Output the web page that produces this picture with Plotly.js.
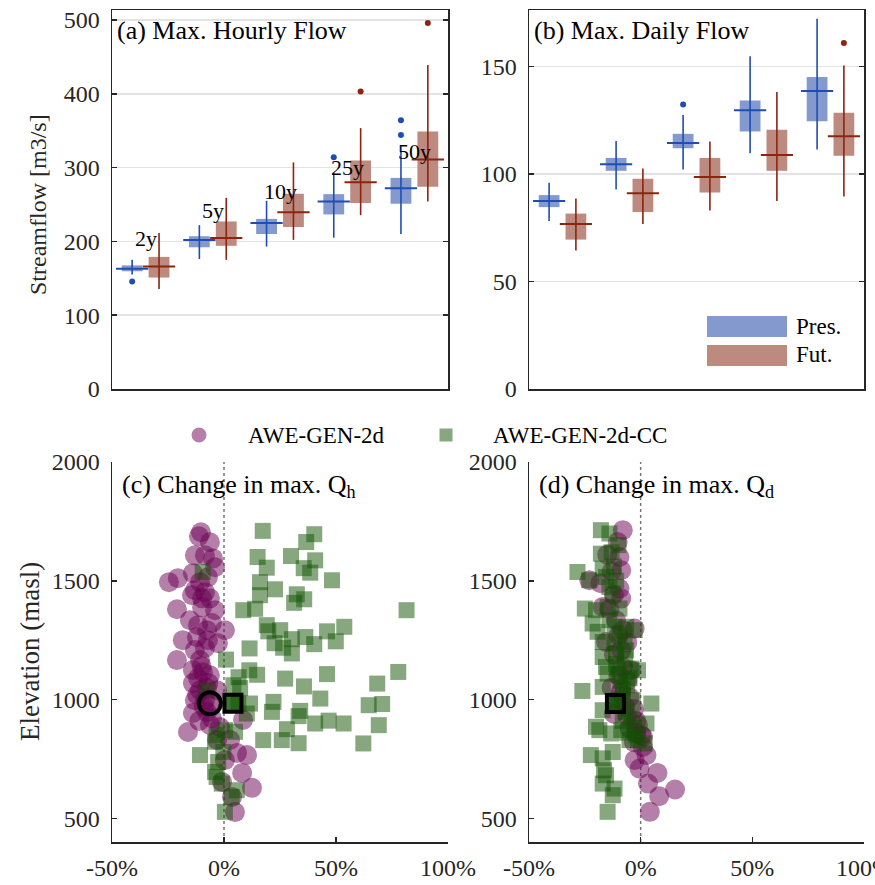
<!DOCTYPE html>
<html>
<head>
<meta charset="utf-8">
<script src="https://cdn.plot.ly/plotly-3.0.1.min.js"></script>
<style>html,body{margin:0;padding:0;background:#fff;}#chart{width:875px;height:885px;}</style>
</head>
<body>
<div id="chart"></div>
<script>
// ---------- DATA ----------
const periods = ['2y', '5y', '10y', '25y', '50y'];

// (a) Max. hourly flow [m3/s]
const hourlyPresQ1  = [159.5, 192.0, 210.0, 236.5, 251.0];
const hourlyPresMed = [163.0, 202.0, 225.0, 254.0, 272.0];
const hourlyPresQ3  = [167.5, 207.0, 230.5, 264.0, 286.0];
const hourlyPresLo  = [155.0, 176.0, 193.0, 205.0, 210.0];
const hourlyPresHi  = [175.0, 222.0, 255.0, 293.0, 329.0];
const hourlyPresOutIdx = [1, 4, 5, 5];
const hourlyPresOutVal = [145.5, 314.0, 344.0, 364.0];

const hourlyFutQ1  = [151.0, 194.0, 219.5, 252.0, 274.0];
const hourlyFutMed = [166.0, 204.5, 239.5, 280.0, 311.0];
const hourlyFutQ3  = [179.0, 227.0, 264.5, 309.5, 349.0];
const hourlyFutLo  = [135.5, 175.0, 202.0, 235.5, 254.0];
const hourlyFutHi  = [211.5, 259.0, 307.0, 353.5, 439.0];
const hourlyFutOutIdx = [4, 5];
const hourlyFutOutVal = [403.0, 496.0];

// (b) Max. daily flow [m3/s]
const dailyPresQ1  = [84.6, 101.5, 112.0, 119.8, 124.6];
const dailyPresMed = [87.4, 104.6, 114.4, 129.7, 138.6];
const dailyPresQ3  = [90.2, 107.5, 118.7, 134.2, 145.1];
const dailyPresLo  = [78.2, 92.8, 102.1, 109.7, 111.4];
const dailyPresHi  = [95.9, 115.4, 127.5, 154.8, 172.2];
const dailyPresOutIdx = [3];
const dailyPresOutVal = [132.3];

const dailyFutQ1  = [69.5, 82.3, 91.4, 101.5, 108.5];
const dailyFutMed = [76.8, 91.1, 98.6, 108.8, 117.6];
const dailyFutQ3  = [81.6, 97.8, 107.5, 120.6, 128.5];
const dailyFutLo  = [64.4, 76.7, 83.0, 87.4, 89.5];
const dailyFutHi  = [88.6, 102.6, 115.1, 138.1, 150.5];
const dailyFutOutIdx = [5];
const dailyFutOutVal = [161.0];

// (c) Change in max. Qh vs elevation
const aweQhX = [-0.103,-0.112,-0.063,-0.130,-0.085,-0.049,-0.040,-0.139,-0.072,-0.246,-0.206,-0.107,-0.130,-0.085,-0.143,-0.098,-0.063,-0.098,-0.210,-0.116,-0.054,-0.076,0.004,-0.184,-0.121,-0.072,-0.027,-0.130,-0.085,-0.210,-0.139,-0.094,-0.063,-0.116,-0.139,-0.076,-0.031,-0.130,-0.085,-0.139,-0.076,-0.161,-0.063,-0.018,-0.031,0.027,0.085,0.058,0.103,0.081,-0.009,0.125,0.036,0.049,-0.107,-0.152,-0.040,-0.107,-0.054,0.004,-0.100,-0.120,-0.070,-0.090,-0.110];
const aweQhY = [1704,1687,1662,1607,1607,1594,1557,1532,1515,1494,1511,1494,1460,1452,1439,1426,1426,1388,1380,1313,1322,1292,1292,1250,1262,1250,1237,1208,1217,1166,1124,1115,1102,1090,1069,1048,1039,997,997,943,947,863,893,884,830,830,914,775,766,691,653,628,590,526,1166,1334,1376,1039,921,745,1140,1020,1070,970,910];
const ccQhX = [0.173,0.403,0.367,0.150,0.299,0.407,0.191,0.356,0.385,0.482,-0.095,0.161,0.228,0.161,0.325,0.358,0.313,0.086,0.139,0.815,0.191,0.198,0.251,0.537,0.460,0.363,0.403,0.303,0.226,0.264,0.499,0.303,0.114,0.009,0.113,0.148,0.065,0.273,0.460,0.357,0.684,0.778,-0.077,0.072,0.042,0.430,0.221,0.214,0.646,0.706,0.340,0.333,0.467,0.534,0.407,0.691,0.281,0.175,0.258,0.333,0.622,0.064,0.116,0.102,0.004,0.049,-0.033,-0.040,-0.003,-0.107,-0.026,-0.040,-0.033,-0.010,0.057,0.034,0.004];
const ccQhY = [1710,1696,1663,1600,1604,1586,1555,1553,1534,1502,1537,1494,1464,1439,1443,1422,1407,1376,1382,1376,1313,1287,1292,1306,1287,1263,1233,1254,1237,1218,1245,1194,1215,1168,1123,1104,1094,1088,1107,1055,1067,1116,1037,1048,1060,1004,990,948,976,981,952,930,911,899,899,892,875,829,829,816,815,983,983,941,871,864,850,822,779,766,737,695,674,646,618,590,527];

// (d) Change in max. Qd vs elevation
const aweQdX = [-0.080,-0.103,-0.095,-0.150,-0.087,-0.130,-0.230,-0.180,-0.095,-0.087,-0.120,-0.170,-0.140,-0.110,-0.027,-0.080,-0.100,-0.155,-0.060,-0.087,-0.120,-0.080,-0.042,-0.100,-0.060,-0.130,-0.090,-0.050,-0.110,-0.070,-0.030,-0.120,-0.060,-0.020,-0.012,-0.050,0.010,-0.020,0.003,0.010,-0.030,-0.027,0.026,-0.005,0.075,0.033,0.154,0.083,0.041];
const aweQdY = [1713,1663,1600,1610,1544,1540,1502,1490,1467,1425,1440,1390,1380,1334,1299,1292,1270,1242,1240,1207,1190,1137,1123,1100,1080,1050,1030,1010,990,970,960,940,930,910,892,880,843,860,850,800,820,745,766,709,691,646,621,593,527];
const ccQdX = [-0.178,-0.140,-0.178,-0.283,-0.230,-0.170,-0.155,-0.140,-0.125,-0.250,-0.200,-0.148,-0.095,-0.215,-0.193,-0.140,-0.117,-0.095,-0.065,-0.170,-0.117,-0.072,-0.027,-0.170,-0.110,-0.065,-0.155,-0.103,-0.042,-0.012,-0.148,-0.095,-0.261,-0.170,-0.080,-0.035,-0.170,-0.065,0.048,-0.200,-0.185,-0.132,-0.087,-0.050,-0.012,0.018,0.026,-0.223,-0.170,-0.125,-0.164,-0.155,-0.170,-0.117,-0.125,-0.148,-0.100,-0.080,-0.060,-0.090,-0.110,-0.070,-0.050,-0.040,-0.080,-0.030,-0.060,-0.020,-0.110,-0.120,-0.130,-0.100];
const ccQdY = [1713,1699,1614,1537,1502,1551,1516,1474,1446,1383,1376,1390,1383,1320,1285,1334,1306,1278,1306,1242,1236,1242,1292,1179,1194,1207,1137,1130,1130,1123,1109,1102,1036,1053,1046,997,955,948,983,885,871,857,871,829,829,815,899,766,752,779,702,681,646,625,597,527,1000,1020,1060,1080,1150,1170,1090,930,910,880,860,850,1500,1560,1620,1650];

// Ensemble means (change, elevation)
const meanQhX = [-0.063, 0.040];
const meanQhY = [984, 984];
const meanQdX = [-0.113];
const meanQdY = [983];

// ---------- STYLE ----------
const FONT = '"Liberation Serif", "Times New Roman", Times, "DejaVu Serif", serif';
const AX = '#262626';
const presFill = '#8499ce', presLine = '#1f4db3';
const futFill = '#bd8a7f', futLine = '#8c2410';
const purple = 'rgb(105,0,82)', green = 'rgb(15,82,0)';
const W = 875, H = 885;
const px = v => v / W, py = v => 1 - v / H;

function boxTraces(q1, med, q3, lo, hi, outIdx, outVal, off, fill, line, xa, ya) {
  const pos = q1.map((_, i) => i + 1 + off);
  const wx = [], wy = [], mx = [], my = [];
  pos.forEach((p, i) => {
    wx.push(p, p, null); wy.push(lo[i], hi[i], null);
    mx.push(p - 0.24, p + 0.24, null); my.push(med[i], med[i], null);
  });
  return [
    {type: 'bar', x: pos, y: q3.map((v, i) => v - q1[i]), base: q1, width: 0.31,
     marker: {color: fill, line: {width: 0}}, xaxis: xa, yaxis: ya, hoverinfo: 'skip'},
    {type: 'scatter', mode: 'lines', x: wx, y: wy, line: {color: line, width: 1.6},
     xaxis: xa, yaxis: ya, hoverinfo: 'skip'},
    {type: 'scatter', mode: 'lines', x: mx, y: my, line: {color: line, width: 2},
     xaxis: xa, yaxis: ya, hoverinfo: 'skip'},
    {type: 'scatter', mode: 'markers', x: outIdx.map(i => i + off), y: outVal,
     marker: {color: line, size: 6}, xaxis: xa, yaxis: ya, hoverinfo: 'skip'}
  ];
}

const traces = [].concat(
  boxTraces(hourlyPresQ1, hourlyPresMed, hourlyPresQ3, hourlyPresLo, hourlyPresHi, hourlyPresOutIdx, hourlyPresOutVal, -0.2, presFill, presLine, 'x', 'y'),
  boxTraces(hourlyFutQ1, hourlyFutMed, hourlyFutQ3, hourlyFutLo, hourlyFutHi, hourlyFutOutIdx, hourlyFutOutVal, 0.2, futFill, futLine, 'x', 'y'),
  boxTraces(dailyPresQ1, dailyPresMed, dailyPresQ3, dailyPresLo, dailyPresHi, dailyPresOutIdx, dailyPresOutVal, -0.2, presFill, presLine, 'x2', 'y2'),
  boxTraces(dailyFutQ1, dailyFutMed, dailyFutQ3, dailyFutLo, dailyFutHi, dailyFutOutIdx, dailyFutOutVal, 0.2, futFill, futLine, 'x2', 'y2'),
  [
    {type: 'scatter', mode: 'markers', name: 'AWE-GEN-2d', x: aweQhX, y: aweQhY, xaxis: 'x3', yaxis: 'y3',
     marker: {symbol: 'circle', size: 20, color: purple, opacity: 0.5, line: {width: 0}}, hoverinfo: 'skip'},
    {type: 'scatter', mode: 'markers', name: 'AWE-GEN-2d-CC', x: ccQhX, y: ccQhY, xaxis: 'x3', yaxis: 'y3',
     marker: {symbol: 'square', size: 16, color: green, opacity: 0.5, line: {width: 0}}, hoverinfo: 'skip'},
    {type: 'scatter', mode: 'markers', x: [meanQhX[0]], y: [meanQhY[0]], xaxis: 'x3', yaxis: 'y3',
     marker: {symbol: 'circle', size: 22, color: 'rgba(105,0,82,0.6)', line: {color: '#000', width: 4}}, hoverinfo: 'skip'},
    {type: 'scatter', mode: 'markers', x: [meanQhX[1]], y: [meanQhY[1]], xaxis: 'x3', yaxis: 'y3',
     marker: {symbol: 'square', size: 17, color: 'rgba(15,82,0,0.8)', line: {color: '#000', width: 4}}, hoverinfo: 'skip'},
    {type: 'scatter', mode: 'markers', x: aweQdX, y: aweQdY, xaxis: 'x4', yaxis: 'y4',
     marker: {symbol: 'circle', size: 20, color: purple, opacity: 0.5, line: {width: 0}}, hoverinfo: 'skip'},
    {type: 'scatter', mode: 'markers', x: ccQdX, y: ccQdY, xaxis: 'x4', yaxis: 'y4',
     marker: {symbol: 'square', size: 16, color: green, opacity: 0.5, line: {width: 0}}, hoverinfo: 'skip'},
    {type: 'scatter', mode: 'markers', x: meanQdX, y: meanQdY, xaxis: 'x4', yaxis: 'y4',
     marker: {symbol: 'square', size: 17, color: 'rgba(15,82,0,0.8)', line: {color: '#000', width: 4}}, hoverinfo: 'skip'}
  ]
);

const tickFont = {family: FONT, size: 24, color: AX};
const boxY = {
  ticks: 'inside', ticklen: 5, tickwidth: 1.5, tickcolor: AX, showline: true, mirror: 'ticks',
  linecolor: AX, linewidth: 1.5, showgrid: true, gridcolor: '#e3e3e3', gridwidth: 1.5,
  zeroline: false, tickfont: tickFont, ticklabelstandoff: 6
};
const boxX = {
  range: [0.5, 5.5], showticklabels: false, ticks: '', showline: true, mirror: true,
  linecolor: AX, linewidth: 1.5, showgrid: false, zeroline: false
};
const scX = {
  range: [-0.5, 1.0], tickvals: [-0.5, 0, 0.5, 1.0], ticktext: ['-50%', '0%', '50%', '100%'],
  ticks: 'inside', ticklen: 5, tickwidth: 1.5, tickcolor: AX, showline: true, linecolor: AX,
  linewidth: 1.5, showgrid: false, zeroline: false, tickfont: tickFont, ticklabelstandoff: 4,
  ticklabeloverflow: 'allow'
};
const scY = {
  range: [400, 2000], tickvals: [500, 1000, 1500, 2000], ticks: 'inside', ticklen: 5,
  tickwidth: 1.5, tickcolor: AX, showline: true, linecolor: AX, linewidth: 1.5,
  showgrid: false, zeroline: false, tickfont: tickFont, ticklabelstandoff: 6
};

const topDom = [py(389), py(10)];
const botDom = [py(842), py(462)];
const leftDom = [px(112), px(448)];
const rightDom = [px(529), px(864)];

const ann = (x, y, text, size, opts) => Object.assign({
  xref: 'paper', yref: 'paper', x: px(x), y: py(y), text: text, showarrow: false,
  xanchor: 'left', yanchor: 'middle', font: {family: FONT, size: size, color: '#000'}
}, opts || {});

const hourlyLabelY = [204, 242, 267, 300, 322];

const annotations = [
  ann(115, 30, '(a) Max. Hourly Flow', 26),
  ann(532, 30, '(b) Max. Daily Flow', 26),
  ann(120, 486, '(c) Change in max. Q<sub>h</sub>', 26),
  ann(537, 486, '(d) Change in max. Q<sub>d</sub>', 26),
  ann(794, 326, 'Pres.', 23),
  ann(794, 355, 'Fut.', 23),
  ann(246, 435, 'AWE-GEN-2d', 23),
  ann(491, 435, 'AWE-GEN-2d-CC', 23),
  ann(38, 205, 'Streamflow [m3/s]', 24, {xanchor: 'center', textangle: -90, font: {family: FONT, size: 24, color: AX}}),
  ann(30, 652, 'Elevation (masl)', 27, {xanchor: 'center', textangle: -90, font: {family: FONT, size: 27, color: AX}})
].concat(periods.map((p, i) => ({
  xref: 'x', yref: 'y', x: i + 1, y: hourlyLabelY[i], text: p, showarrow: false,
  xanchor: 'center', yanchor: 'middle', font: {family: FONT, size: 22, color: '#000'}
})));

const shapes = [
  {type: 'line', xref: 'x3', yref: 'y3 domain', x0: 0, x1: 0, y0: 0, y1: 1, layer: 'below',
   line: {color: '#777', width: 1.5, dash: 'dot'}},
  {type: 'line', xref: 'x4', yref: 'y4 domain', x0: 0, x1: 0, y0: 0, y1: 1, layer: 'below',
   line: {color: '#777', width: 1.5, dash: 'dot'}},
  {type: 'rect', xref: 'paper', yref: 'paper', x0: px(707), x1: px(787), y0: py(337), y1: py(316),
   fillcolor: presFill, line: {width: 0}},
  {type: 'rect', xref: 'paper', yref: 'paper', x0: px(707), x1: px(787), y0: py(366), y1: py(345),
   fillcolor: futFill, line: {width: 0}},
  {type: 'circle', xref: 'paper', yref: 'paper', x0: px(191.5), x1: px(206.5), y0: py(442.5), y1: py(427.5),
   fillcolor: purple, opacity: 0.5, line: {width: 0}},
  {type: 'rect', xref: 'paper', yref: 'paper', x0: px(439.5), x1: px(452.5), y0: py(441.5), y1: py(428.5),
   fillcolor: green, opacity: 0.5, line: {width: 0}}
];

const layout = {
  width: W, height: H, margin: {l: 0, r: 0, t: 0, b: 0},
  paper_bgcolor: '#fff', plot_bgcolor: '#fff', showlegend: false, barmode: 'overlay',
  font: {family: FONT, size: 23, color: AX},
  xaxis: Object.assign({}, boxX, {domain: leftDom, anchor: 'y'}),
  yaxis: Object.assign({}, boxY, {domain: topDom, anchor: 'x', range: [0, 513.5], tickvals: [0, 100, 200, 300, 400, 500]}),
  xaxis2: Object.assign({}, boxX, {domain: rightDom, anchor: 'y2'}),
  yaxis2: Object.assign({}, boxY, {domain: topDom, anchor: 'x2', range: [0, 176.3], tickvals: [0, 50, 100, 150]}),
  xaxis3: Object.assign({}, scX, {domain: leftDom, anchor: 'y3'}),
  yaxis3: Object.assign({}, scY, {domain: botDom, anchor: 'x3'}),
  xaxis4: Object.assign({}, scX, {domain: rightDom, anchor: 'y4'}),
  yaxis4: Object.assign({}, scY, {domain: botDom, anchor: 'x4'}),
  annotations: annotations,
  shapes: shapes
};

Plotly.newPlot('chart', traces, layout, {staticPlot: true, displayModeBar: false});
</script>
</body>
</html>
